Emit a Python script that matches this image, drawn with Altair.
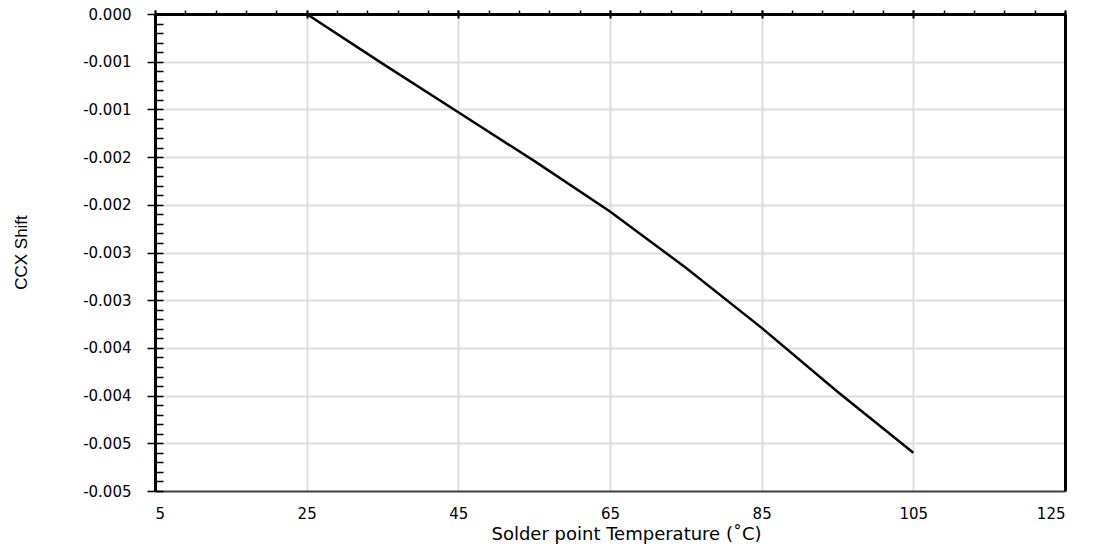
import altair as alt
import pandas as pd

# ---- data ----
temps = [25, 35, 45, 55, 65, 75, 85, 95, 105]
shift = [0.0, -0.00052, -0.00103, -0.00154, -0.00207, -0.00266, -0.00329, -0.00396, -0.0046]

x_tick_values = [5, 25, 45, 65, 85, 105, 125]
y_tick_values = [0.0, -0.0005, -0.001, -0.0015, -0.002, -0.0025, -0.003, -0.0035, -0.004, -0.0045, -0.005]
y_tick_labels = ["0.000", "-0.001", "-0.001", "-0.002", "-0.002", "-0.003",
                 "-0.003", "-0.004", "-0.004", "-0.005", "-0.005"]

x_title = "Solder point  Temperature (˚C)"
y_title = "CCX Shift"

df = pd.DataFrame({"temp": temps, "shift": shift})

x_minor = list(range(5, 126, 4))
y_minor = [round(-i * 0.0001, 4) for i in range(51)]

label_expr = " : ".join(
    f"abs(datum.value - ({v})) < 1e-9 ? '{lab}'" for v, lab in zip(y_tick_values, y_tick_labels)
) + " : ''"

xscale = alt.Scale(domain=[5, 125], nice=False, zero=False)
yscale = alt.Scale(domain=[-0.005, 0], nice=False, zero=False)

base = alt.Chart(df)

main = base.mark_line(color="black", strokeWidth=2.5).encode(
    x=alt.X("temp:Q", scale=xscale, axis=alt.Axis(
        orient="bottom", values=x_tick_values, ticks=False, tickSize=0,
        domainColor="#444444", domainWidth=2,
        labelFont="DejaVu Sans", labelFontSize=15, labelColor="black", labelPadding=15,
        grid=True, gridColor="#dddddd", gridWidth=2,
        title=x_title, titleFont="DejaVu Sans", titleFontSize=18, titleFontWeight="normal",
        titleColor="black", titleX=471, titleY=48, titleAlign="center", titleBaseline="alphabetic")),
    y=alt.Y("shift:Q", scale=yscale, axis=alt.Axis(
        orient="left", values=y_tick_values, labelExpr=label_expr,
        ticks=True, tickSize=8, tickColor="black", tickWidth=1.5,
        domainColor="black", domainWidth=3,
        labelFont="DejaVu Sans", labelFontSize=15, labelColor="black", labelPadding=16,
        labelBaseline="middle",
        grid=True, gridColor="#dddddd", gridWidth=2,
        title=y_title, titleFont="Liberation Sans", titleFontSize=17, titleFontWeight="normal",
        titleColor="black", titleX=-134, titleY=238, titleAngle=270,
        titleAlign="center", titleBaseline="middle")),
)

minor = base.mark_line(opacity=0).encode(
    x=alt.X("temp:Q", scale=xscale, axis=alt.Axis(
        orient="top", values=x_minor, ticks=True, tickSize=4, tickColor="black", tickWidth=1.5,
        domainColor="black", domainWidth=3, labels=False, grid=False, title=None)),
    y=alt.Y("shift:Q", scale=yscale, axis=alt.Axis(
        orient="left", offset=-8, values=y_minor, ticks=True, tickSize=8, tickColor="black",
        tickWidth=1.5, domain=False, labels=False, grid=False, title=None)),
)

frame = base.mark_line(opacity=0).encode(
    x=alt.X("temp:Q", scale=xscale, axis=alt.Axis(
        orient="top", offset=-4, values=x_tick_values, ticks=True, tickSize=8, tickColor="black",
        tickWidth=2, domain=False, labels=False, grid=False, title=None)),
    y=alt.Y("shift:Q", scale=yscale, axis=alt.Axis(
        orient="right", ticks=False, domainColor="black", domainWidth=3,
        labels=False, grid=False, title=None)),
)

chart = alt.layer(main, minor, frame).resolve_axis(
    x="independent", y="independent"
).properties(
    width=910, height=477,
    autosize=alt.AutoSizeParams(type="none"),
    padding={"left": 147, "top": 6, "right": 23, "bottom": 53},
).configure_view(stroke=None).configure(background="white")

chart.save("out.html", embed_options={"renderer": "svg", "actions": False})
